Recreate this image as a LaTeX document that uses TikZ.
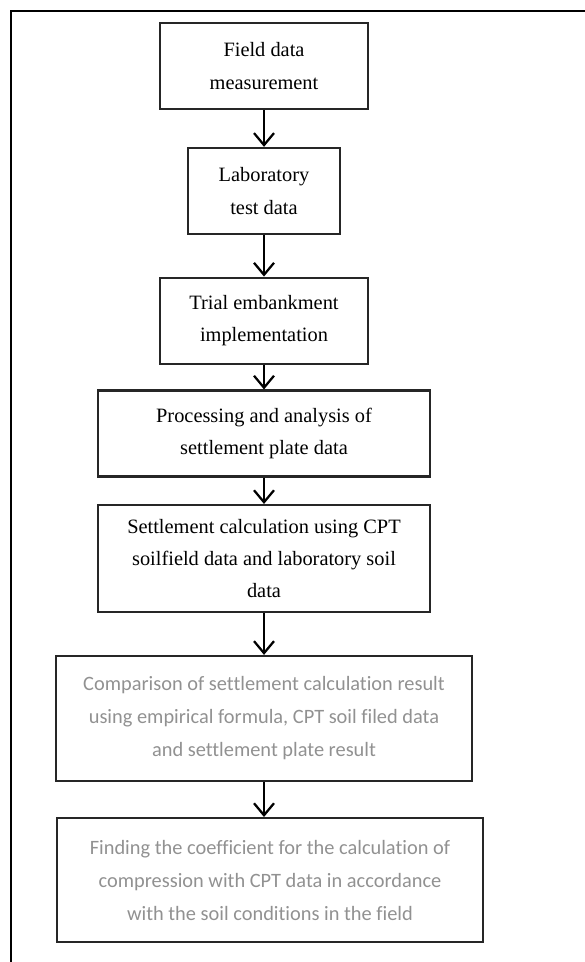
\documentclass[tikz,border=0pt]{standalone}
\usepackage{fontspec}
\setmainfont{Liberation Serif}
\newfontfamily\calibrifont[Ligatures=NoCommon]{Carlito}
\usepackage{xcolor}
\usetikzlibrary{positioning, arrows.meta}
\definecolor{greytext}{gray}{0.57}

\begin{document}
\begin{tikzpicture}[node distance=0.92cm, >={Straight Barb[length=0.3cm, width=0.5cm]},
      stage/.style={draw=black!85, line width=1.5pt, align=center, inner sep=0pt, minimum height=2.15cm, font=\fontsize{14.5}{23}\selectfont},
      result/.style={stage, text=greytext, minimum width=10.4cm, minimum height=3.12cm, font=\calibrifont\fontsize{14.5}{23.5}\selectfont},
      flow/.style={->, line width=1.6pt}]

    \useasboundingbox (0,0) rectangle (14.6,-24.05);
    % outer frame, only left and top edges fall inside the page
    \draw[line width=2pt] (0.275,-24.2) |- (14.8,-0.275);

    \node[stage, minimum width=5.2cm] (field) at (6.6,-1.65) {Field data\\measurement};
    \node[stage, minimum width=3.82cm, below=0.92cm of field] (lab) {Laboratory\\test data};
    \node[stage, minimum width=5.2cm, below=1.04cm of lab] (trial) {Trial embankment\\implementation};
    \node[stage, minimum width=8.3cm, below=0.62cm of trial] (plate) {Processing and analysis of\\settlement plate data};
    \node[stage, minimum width=8.3cm, minimum height=2.68cm, below=0.66cm of plate] (calc) {Settlement calculation using CPT\\soilfield data and laboratory soil\\data};
    \node[result, below=1.04cm of calc] (compare) {Comparison of settlement calculation result\\using empirical formula, CPT soil filed data\\and settlement plate result};
    \node[result, minimum width=10.65cm, minimum height=3.1cm, below=0.88cm of compare, xshift=0.15cm] (coeff) {Finding the coefficient for the calculation of\\compression with CPT data in accordance\\with the soil conditions in the field};

    \draw[flow] (field) -- (lab);
    \draw[flow] (lab) -- (trial);
    \draw[flow] (trial) -- (plate);
    \draw[flow] (plate) -- (calc);
    \draw[flow] (calc) -- (compare);
    \draw[flow] (compare.south) -- (compare.south |- coeff.north);
\end{tikzpicture}
\end{document}
